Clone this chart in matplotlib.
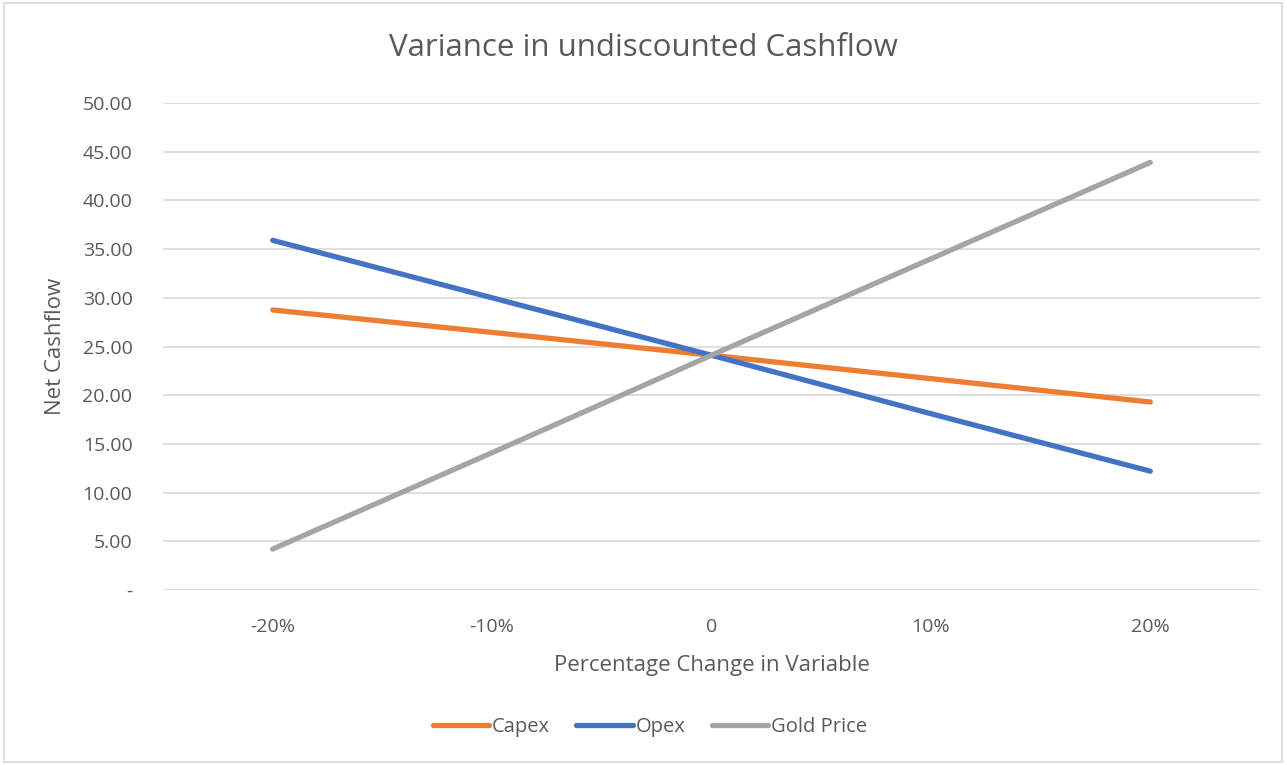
import matplotlib
matplotlib.use("Agg")
import matplotlib.pyplot as plt
from matplotlib.ticker import FuncFormatter, MultipleLocator
from matplotlib.patches import Rectangle

categories = ["-20%", "-10%", "0", "10%", "20%"]
capex = [28.75, 26.45, 24.10, 21.70, 19.30]
opex = [35.90, 30.00, 24.10, 18.10, 12.20]
gold = [4.20, 14.10, 24.10, 34.00, 43.90]

series_names = ["Capex", "Opex", "Gold Price"]
series_colors = ["#ED7D31", "#4472C4", "#A5A5A5"]

plt.rcParams['font.family'] = ['Open Sans', 'DejaVu Sans']
text_color = "#595959"

fig = plt.figure(figsize=(12.87, 7.65), dpi=100)
ax = fig.add_axes([163/1287, 1-590/765, (1260-163)/1287, (590-103)/765])

x = list(range(len(categories)))
for vals, name, col in zip([capex, opex, gold], series_names, series_colors):
    ax.plot(x, vals, color=col, lw=3.8, solid_capstyle='round', label=name, zorder=3)

ax.set_xlim(-0.5, len(categories) - 0.5)
ax.set_ylim(0, 50)
ax.yaxis.set_major_locator(MultipleLocator(5))
ax.yaxis.set_major_formatter(FuncFormatter(lambda v, p: "-" if abs(v) < 1e-9 else f"{v:.2f}"))
ax.set_xticks(x)
ax.set_xticklabels(categories)
ax.grid(axis='y', color="#D9D9D9", lw=1.2, zorder=0)
for s in ax.spines.values():
    s.set_visible(False)
ax.tick_params(axis='both', length=0, colors=text_color, labelsize=14)
ax.tick_params(axis='y', pad=22)
ax.tick_params(axis='x', pad=20)

ax.set_xlabel("Percentage Change in Variable", fontsize=16, color=text_color, labelpad=14)
ax.set_ylabel("Net Cashflow", fontsize=16, color=text_color, labelpad=12)

fig.text(0.5, 1-48/765, "Variance in undiscounted Cashflow", ha='center', va='center',
         fontsize=22.5, color=text_color)

handles, labels = ax.get_legend_handles_labels()
leg = fig.legend(handles, labels, loc='center', bbox_to_anchor=(650/1287, 1-727/765),
                 ncol=3, frameon=False, fontsize=14.5, handlelength=2.8,
                 handletextpad=0.15, columnspacing=1.3)
for t in leg.get_texts():
    t.set_color(text_color)

fig.patches.append(Rectangle((4/1287, 3/765), (1282-4)/1287, (762-3)/765,
                             transform=fig.transFigure, fill=False,
                             edgecolor="#D9D9D9", lw=1.2))

fig.savefig("out.png", dpi=100, facecolor='white')
